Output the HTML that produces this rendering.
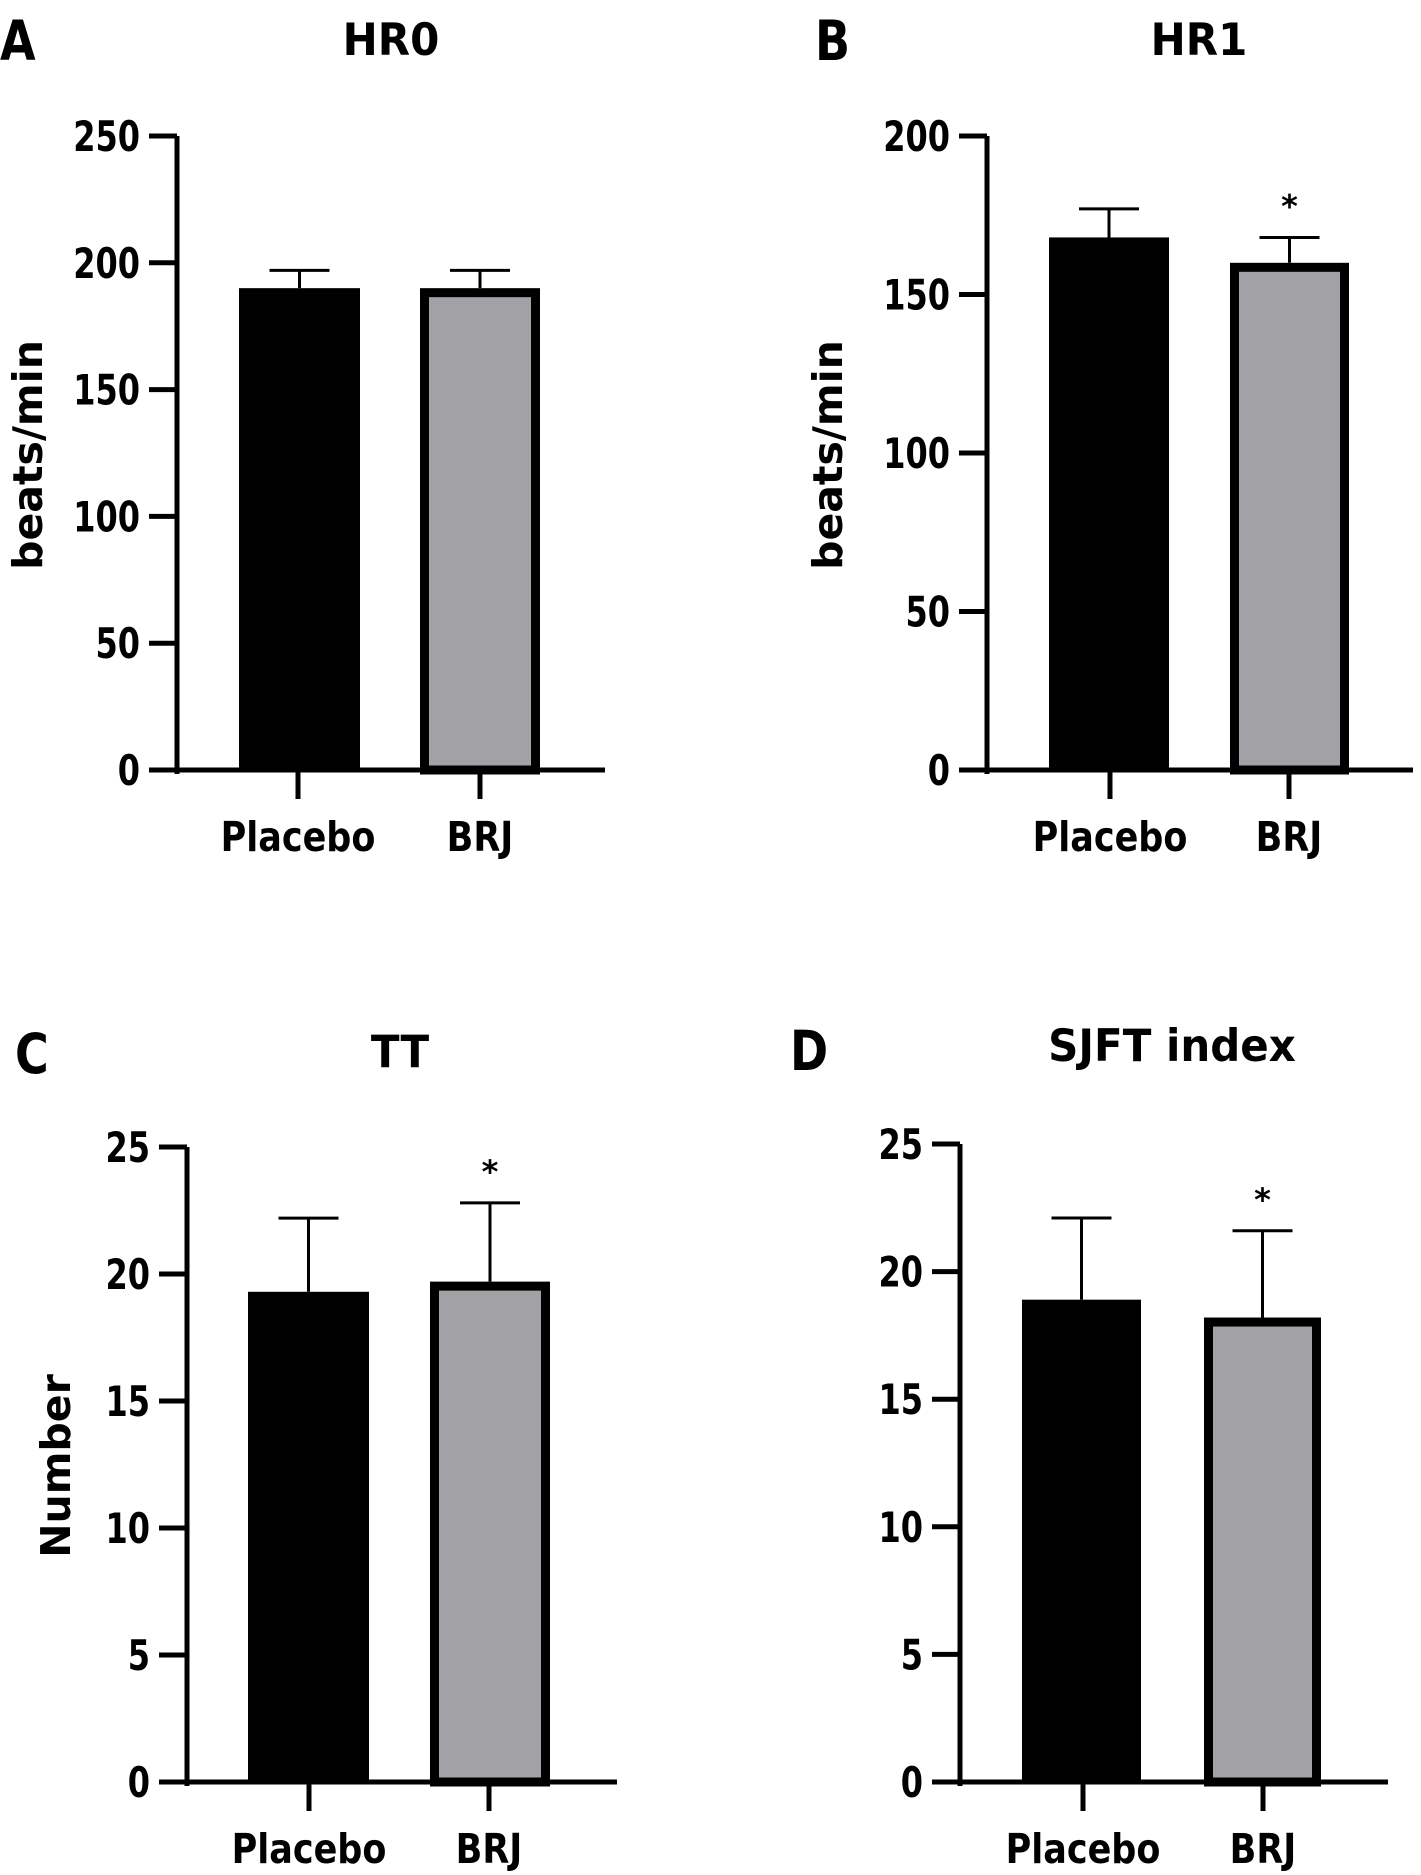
<!DOCTYPE html>
<html><head><meta charset="utf-8"><style>
html,body{margin:0;padding:0;background:#fff;}
svg{display:block;}
text{font-family:"DejaVu Sans","Liberation Sans",sans-serif;font-weight:bold;fill:#000;}
</style></head><body>
<svg id="fig" width="1421" height="1875" viewBox="0 0 1421 1875" xmlns="http://www.w3.org/2000/svg"></svg>
<script>
const categories = ["Placebo", "BRJ"];
const hr0Means = [190, 190];
const hr0Errors = [7, 7];
const hr1Means = [168, 160];
const hr1Errors = [9, 8];
const ttMeans = [19.3, 19.7];
const ttErrors = [2.9, 3.1];
const sjftMeans = [18.9, 18.2];
const sjftErrors = [3.2, 3.4];
const hr0Ticks = [0, 50, 100, 150, 200, 250];
const hr1Ticks = [0, 50, 100, 150, 200];
const countTicks = [0, 5, 10, 15, 20, 25];
const significance = [[false,false],[false,true],[false,true],[false,true]];

const panels = [
  {id:"hr0", letter:"A", lx:0, ly:60, title:"HR0", tx:391, ty:55, ytitle:"beats/min", ytx:42, yty:455,
   ax:177, top:136, bot:770, xend:605, max:250, ticks:hr0Ticks, means:hr0Means, errs:hr0Errors,
   bars:[[239,360],[420,540]], cats:[298,480], sig:significance[0]},
  {id:"hr1", letter:"B", lx:815, ly:60, title:"HR1", tx:1199, ty:55, ytitle:"beats/min", ytx:842, yty:455,
   ax:987, top:136, bot:770, xend:1413, max:200, ticks:hr1Ticks, means:hr1Means, errs:hr1Errors,
   bars:[[1049,1169],[1230,1349]], cats:[1110,1289], sig:significance[1]},
  {id:"tt", letter:"C", lx:15, ly:1073, title:"TT", tx:400, ty:1067, ytitle:"Number", ytx:70, yty:1466,
   ax:187, top:1147, bot:1782, xend:617, max:25, ticks:countTicks, means:ttMeans, errs:ttErrors,
   bars:[[248,369],[430,550]], cats:[309,489], sig:significance[2]},
  {id:"sjft", letter:"D", lx:790, ly:1070, title:"SJFT index", tx:1172, ty:1061, ytitle:"", ytx:0, yty:0,
   ax:960, top:1144, bot:1782, xend:1388, max:25, ticks:countTicks, means:sjftMeans, errs:sjftErrors,
   bars:[[1022,1141],[1204,1321]], cats:[1083,1263], sig:significance[3]}
];
const NS = "http://www.w3.org/2000/svg";
const svg = document.getElementById("fig");
function mk(tag, attrs, parent, txt){
  const e = document.createElementNS(NS, tag);
  for (const k in attrs) e.setAttribute(k, attrs[k]);
  if (txt !== undefined) e.textContent = txt;
  parent.appendChild(e);
  return e;
}
panels.forEach(p => {
  const g = mk("g", {}, svg);
  
  
  const y = v => p.bot - (v / p.max) * (p.bot - p.top);
  let t = mk("text", {x:0, y:0, "font-size":46, transform:`translate(${p.lx} ${p.ly}) scale(1 1.2)`}, g, p.letter);
  
  
  t = mk("text", {x:0, y:0, "font-size":42, "text-anchor":"middle", transform:`translate(${p.tx} ${p.ty}) scale(1 1.05)`}, g, p.title);
  
  
  if (p.ytitle) {
    t = mk("text", {x:p.ytx, y:p.yty, "font-size":41, "text-anchor":"middle", transform:`rotate(-90 ${p.ytx} ${p.yty})`}, g, p.ytitle);
    
    
  }
  p.means.forEach((m, i) => {
    const [x0, x1] = p.bars[i];
    const yt = y(m);
    let r;
    if (i === 0) {
      r = mk("rect", {x:x0, y:yt, width:x1-x0, height:p.bot-yt, fill:"#000"}, g);
    } else {
      r = mk("rect", {x:x0+4.5, y:yt+4.5, width:x1-x0-9, height:p.bot-yt-4.5, fill:"#a2a1a6", stroke:"#000", "stroke-width":9}, g);
    }
    
    
    const cx = (x0 + x1) / 2;
    const ye = y(m + p.errs[i]);
    const eb = mk("path", {d:`M${cx} ${yt} V${ye} M${cx-30} ${ye} H${cx+30}`, stroke:"#000", "stroke-width":3, fill:"none"}, g);
    
    
    if (p.sig[i]) {
      const s = mk("text", {x:cx, y:ye - 20, "font-size":32, "font-weight":"normal", "text-anchor":"middle"}, g, "*");
      
      
    }
  });
  let a = mk("line", {x1:p.ax, y1:p.top, x2:p.ax, y2:p.bot+4, stroke:"#000", "stroke-width":5}, g);
  
  
  a = mk("line", {x1:p.ax-28, y1:p.bot, x2:p.xend, y2:p.bot, stroke:"#000", "stroke-width":5}, g);
  
  
  p.ticks.forEach(v => {
    const ty = y(v);
    const tk = mk("line", {x1:p.ax-28, y1:ty, x2:p.ax, y2:ty, stroke:"#000", "stroke-width":5}, g);
    
    
    const tl = mk("text", {x:0, y:0, "font-size":32, "text-anchor":"end", transform:`translate(${p.ax-37} ${ty+15}) scale(1 1.3)`}, g, String(v));
    
    
  });
  categories.forEach((c, i) => {
    const cx = p.cats[i];
    const tk = mk("line", {x1:cx, y1:p.bot, x2:cx, y2:p.bot+29, stroke:"#000", "stroke-width":5}, g);
    
    
    const tl = mk("text", {x:0, y:0, "font-size":35, "text-anchor":"middle", transform:`translate(${cx} ${p.bot+81}) scale(1 1.18)`}, g, c);
    
    
  });
});
</script>
</body></html>
